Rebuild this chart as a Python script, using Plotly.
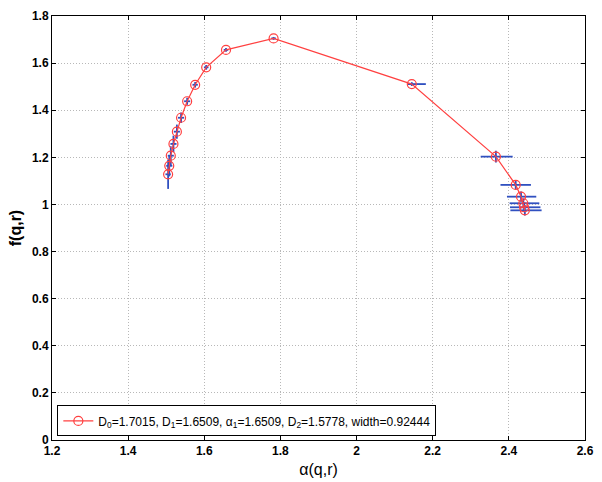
import plotly.graph_objects as go

alpha = [1.505, 1.508, 1.512, 1.519, 1.528, 1.539, 1.555, 1.576, 1.605, 1.657, 1.782,
         2.145, 2.366, 2.418, 2.432, 2.438, 2.440, 2.442]
f = [1.128, 1.164, 1.207, 1.257, 1.309, 1.368, 1.438, 1.508, 1.582, 1.656, 1.705,
     1.511, 1.203, 1.083, 1.033, 1.005, 0.988, 0.975]
alpha_err_minus = [0.007, 0.008, 0.008, 0.008, 0.008, 0.008, 0.008, 0.007, 0.006, 0.006, 0.006,
                   0.011, 0.040, 0.040, 0.037, 0.036, 0.037, 0.038]
alpha_err_plus = [0.007, 0.008, 0.008, 0.008, 0.008, 0.008, 0.008, 0.007, 0.006, 0.006, 0.006,
                  0.037, 0.044, 0.040, 0.040, 0.042, 0.043, 0.044]
f_err = [0.062, 0.045, 0.040, 0.035, 0.030, 0.022, 0.015, 0.012, 0.010, 0.008, 0.006,
         0.008, 0.025, 0.020, 0.022, 0.020, 0.020, 0.022]

legend_label = "D<sub>0</sub>=1.7015, D<sub>1</sub>=1.6509, α<sub>1</sub>=1.6509, D<sub>2</sub>=1.5778, width=0.92444"

fig = go.Figure()
fig.add_trace(go.Scatter(
    x=alpha, y=f, mode="lines+markers", name=legend_label,
    line=dict(color="#ff4040", width=1.2),
    marker=dict(symbol="circle-open", size=9, color="#ff4040", line=dict(width=1.2)),
    error_x=dict(type="data", array=alpha_err_plus, arrayminus=alpha_err_minus,
                 symmetric=False, color="#3050c0", thickness=1.8, width=0),
    error_y=dict(type="data", array=f_err, color="#3050c0", thickness=1.8, width=0),
))

axis_common = dict(
    showline=True, linecolor="black", linewidth=1, mirror="ticks",
    ticks="inside", ticklen=4, tickcolor="black",
    showgrid=True, gridcolor="#b8b8b8", griddash="1px,2px", gridwidth=1,
    zeroline=False, automargin=False,
    tickfont=dict(family="Liberation Sans, Arial", size=12, color="black", weight="bold"),
)

fig.update_layout(
    width=602, height=482,
    margin=dict(l=52, r=17, t=16, b=42),
    paper_bgcolor="white", plot_bgcolor="white",
    showlegend=True,
    legend=dict(x=0.01, y=0.045, xanchor="left", yanchor="middle",
                bordercolor="black", borderwidth=1, bgcolor="white",
                font=dict(family="Liberation Sans, Arial", size=12, color="black")),
    xaxis=dict(range=[1.2, 2.6], dtick=0.2, tickformat="~g",
               title=dict(text="α(q,r)", font=dict(family="Liberation Sans, Arial", size=16, color="black"), standoff=6),
               **axis_common),
    yaxis=dict(range=[0, 1.8], dtick=0.2, tickformat="~g",
               title=dict(text="f(q,r)", font=dict(family="Liberation Sans, Arial", size=16, color="black", weight="bold"), standoff=6),
               **axis_common),
)

fig.write_html("out.html", config={"displayModeBar": False},
               post_script="document.body.style.margin='0';document.body.style.overflow='hidden';")
